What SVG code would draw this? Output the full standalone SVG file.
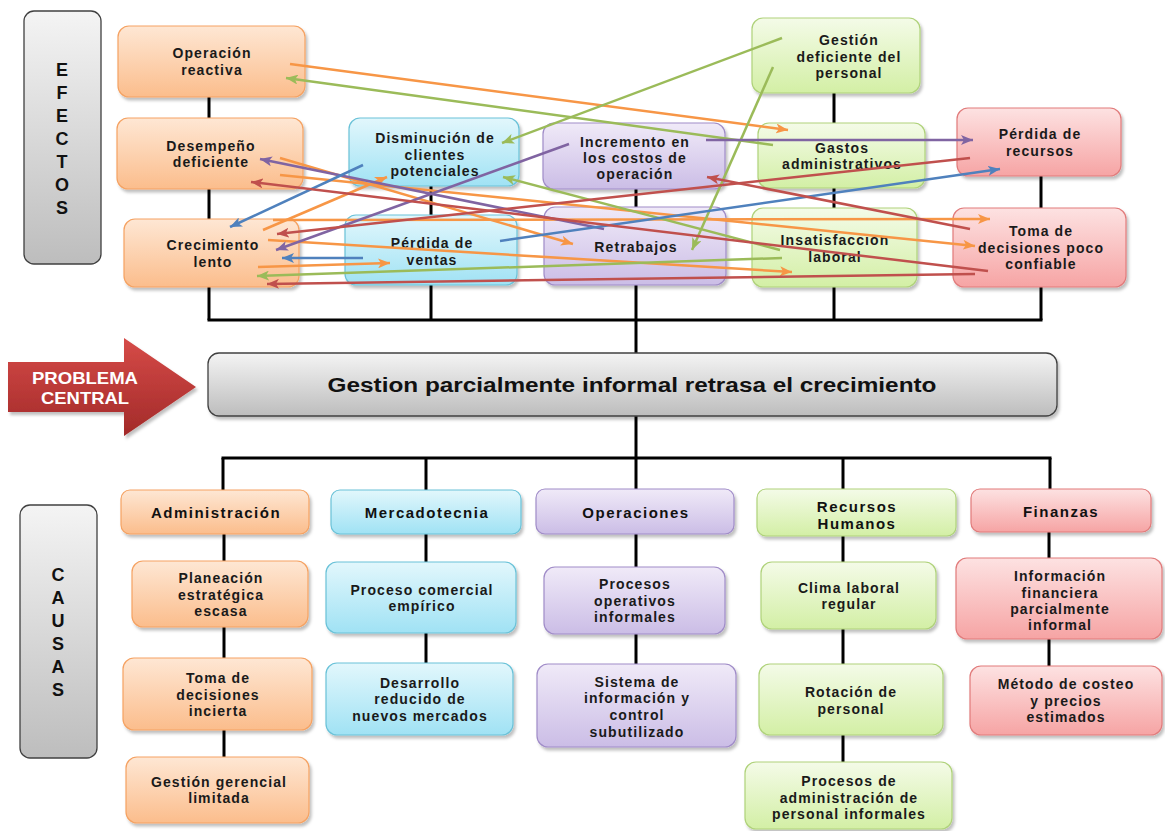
<svg xmlns="http://www.w3.org/2000/svg" width="1165" height="831" viewBox="0 0 1165 831">
<style>
.t{font-family:"Liberation Sans",Arial,sans-serif;font-weight:bold;font-size:14px;letter-spacing:1.1px;text-anchor:middle;fill:#1a1a1a;dominant-baseline:central}
.h{font-family:"Liberation Sans",Arial,sans-serif;font-weight:bold;font-size:15px;letter-spacing:1.5px;text-anchor:middle;fill:#111;dominant-baseline:central}
.big{font-family:"Liberation Sans",Arial,sans-serif;font-weight:bold;font-size:18px;text-anchor:middle;fill:#111;dominant-baseline:central}
.pc{font-family:"Liberation Sans",Arial,sans-serif;font-weight:bold;font-size:16.5px;fill:#fff;text-anchor:middle;dominant-baseline:central}
.or{fill:url(#gOr);stroke:#f5a262;stroke-width:1.2}
.bl{fill:url(#gBl);stroke:#6ac2d8;stroke-width:1.2}
.pu{fill:url(#gPu);stroke:#a08cc8;stroke-width:1.2}
.gr{fill:url(#gGr);stroke:#afd27a;stroke-width:1.2}
.re{fill:url(#gRe);stroke:#e17b7b;stroke-width:1.2}
.gy{fill:url(#gGy);stroke:#404040;stroke-width:1.3}
.node rect{filter:url(#sh)}
.tree line{stroke:#000;stroke-width:3}
.a{fill:none;stroke-width:2.5}
.ao{stroke:#f79646;marker-end:url(#mO)}
.ag{stroke:#9bbb59;marker-end:url(#mG)}
.ap{stroke:#8064a2;marker-end:url(#mP)}
.ab{stroke:#4f81bd;marker-end:url(#mB)}
.ar{stroke:#c0504d;marker-end:url(#mR)}
</style>
<defs>
<linearGradient id="gOr" x1="0" y1="0" x2="0" y2="1"><stop offset="0" stop-color="#fee7d4"/><stop offset="1" stop-color="#fbbd8c"/></linearGradient>
<linearGradient id="gBl" x1="0" y1="0" x2="0" y2="1"><stop offset="0" stop-color="#e2f7fc"/><stop offset="1" stop-color="#a0e2f4"/></linearGradient>
<linearGradient id="gPu" x1="0" y1="0" x2="0" y2="1"><stop offset="0" stop-color="#f0eaf8"/><stop offset="1" stop-color="#cbbde6"/></linearGradient>
<linearGradient id="gGr" x1="0" y1="0" x2="0" y2="1"><stop offset="0" stop-color="#f4fbe8"/><stop offset="1" stop-color="#d3efa5"/></linearGradient>
<linearGradient id="gRe" x1="0" y1="0" x2="0" y2="1"><stop offset="0" stop-color="#fde2e2"/><stop offset="1" stop-color="#f6a4a4"/></linearGradient>
<linearGradient id="gGy" x1="0" y1="0" x2="0" y2="1"><stop offset="0" stop-color="#f4f4f4"/><stop offset="1" stop-color="#bdbdbd"/></linearGradient>
<linearGradient id="gArr" x1="0" y1="0" x2="0" y2="1"><stop offset="0" stop-color="#d64b48"/><stop offset="1" stop-color="#a22a29"/></linearGradient>
<filter id="sh" x="-10%" y="-10%" width="125%" height="135%"><feDropShadow dx="2" dy="3" stdDeviation="1.8" flood-color="#000" flood-opacity="0.25"/></filter>
<marker id="mO" markerUnits="userSpaceOnUse" markerWidth="13" markerHeight="10" refX="12" refY="5" orient="auto"><path d="M0,0 L12,5 L0,10 L3,5 z" fill="#f79646"/></marker>
<marker id="mG" markerUnits="userSpaceOnUse" markerWidth="13" markerHeight="10" refX="12" refY="5" orient="auto"><path d="M0,0 L12,5 L0,10 L3,5 z" fill="#9bbb59"/></marker>
<marker id="mP" markerUnits="userSpaceOnUse" markerWidth="13" markerHeight="10" refX="12" refY="5" orient="auto"><path d="M0,0 L12,5 L0,10 L3,5 z" fill="#8064a2"/></marker>
<marker id="mB" markerUnits="userSpaceOnUse" markerWidth="13" markerHeight="10" refX="12" refY="5" orient="auto"><path d="M0,0 L12,5 L0,10 L3,5 z" fill="#4f81bd"/></marker>
<marker id="mR" markerUnits="userSpaceOnUse" markerWidth="13" markerHeight="10" refX="12" refY="5" orient="auto"><path d="M0,0 L12,5 L0,10 L3,5 z" fill="#c0504d"/></marker>
</defs>
<rect width="1165" height="831" fill="#fff"/>

<g id="tree" class="tree">
<line x1="209" y1="97" x2="209" y2="320"/>
<line x1="431" y1="186" x2="431" y2="320"/>
<line x1="636" y1="189" x2="636" y2="353"/>
<line x1="834" y1="93" x2="834" y2="320"/>
<line x1="1041" y1="176" x2="1041" y2="320"/>
<line x1="207.5" y1="320" x2="1042.5" y2="320"/>
<line x1="636" y1="416" x2="636" y2="458"/>
<line x1="221.5" y1="458" x2="1051.5" y2="458"/>
<line x1="223" y1="458" x2="223" y2="490"/>
<line x1="426" y1="458" x2="426" y2="490"/>
<line x1="843" y1="458" x2="843" y2="489"/>
<line x1="1050" y1="458" x2="1050" y2="489"/>
<line x1="224" y1="534" x2="224" y2="757"/>
<line x1="426" y1="534" x2="426" y2="663"/>
<line x1="636" y1="458" x2="636" y2="664"/>
<line x1="843" y1="536" x2="843" y2="762"/>
<line x1="1049" y1="532" x2="1049" y2="666"/>
</g>

<g id="efectos-label"><rect x="24" y="11" width="77" height="253" rx="10" class="gy"/>
<text class="big" x="62" y="70">E</text><text class="big" x="62" y="93">F</text><text class="big" x="62" y="116">E</text><text class="big" x="62" y="139">C</text><text class="big" x="62" y="162">T</text><text class="big" x="62" y="185">O</text><text class="big" x="62" y="208">S</text></g>
<g id="causas-label"><rect x="20" y="505" width="77" height="253" rx="10" class="gy"/>
<text class="big" x="58" y="575">C</text><text class="big" x="58" y="598">A</text><text class="big" x="58" y="621">U</text><text class="big" x="58" y="644">S</text><text class="big" x="58" y="667">A</text><text class="big" x="58" y="690">S</text></g>

<g id="problema-central"><polygon points="8,362 124,362 124,338 196,387 124,436 124,412 8,412" fill="url(#gArr)" filter="url(#sh)"/>
<text class="pc" x="85" y="378" textLength="106" lengthAdjust="spacingAndGlyphs">PROBLEMA</text>
<text class="pc" x="85" y="398" textLength="88" lengthAdjust="spacingAndGlyphs">CENTRAL</text></g>

<g id="central" class="node"><rect x="208" y="353" width="849" height="63" rx="11" class="gy"/>
<text x="632" y="385" textLength="609" lengthAdjust="spacingAndGlyphs" style="font-family:'Liberation Sans',Arial,sans-serif;font-weight:bold;font-size:19.5px;fill:#111;text-anchor:middle;dominant-baseline:central">Gestion parcialmente informal retrasa el crecimiento</text></g>

<g id="e-operacion" class="node"><rect x="118" y="26" width="187" height="71" rx="11" class="or"/><text class="t" x="212" y="53">Operación</text><text class="t" x="212" y="70">reactiva</text></g>
<g id="e-desempeno" class="node"><rect x="117" y="118" width="186" height="71" rx="11" class="or"/><text class="t" x="211" y="146">Desempeño</text><text class="t" x="211" y="162">deficiente</text></g>
<g id="e-crecimiento" class="node"><rect x="124" y="219" width="175" height="68" rx="11" class="or"/><text class="t" x="213" y="245">Crecimiento</text><text class="t" x="213" y="262">lento</text></g>
<g id="e-disminucion" class="node"><rect x="349" y="118" width="170" height="68" rx="11" class="bl"/><text class="t" x="435" y="138">Disminución de</text><text class="t" x="435" y="155">clientes</text><text class="t" x="435" y="171">potenciales</text></g>
<g id="e-perdida-ventas" class="node"><rect x="345" y="215" width="172" height="70" rx="11" class="bl"/><text class="t" x="432" y="243">Pérdida de</text><text class="t" x="432" y="260">ventas</text></g>
<g id="e-incremento" class="node"><rect x="543" y="123" width="182" height="66" rx="11" class="pu"/><text class="t" x="635" y="142">Incremento en</text><text class="t" x="635" y="158">los costos de</text><text class="t" x="635" y="174">operación</text></g>
<g id="e-retrabajos" class="node"><rect x="544" y="207" width="182" height="78" rx="11" class="pu"/><text class="t" x="636" y="247">Retrabajos</text></g>
<g id="e-gestion-personal" class="node"><rect x="752" y="18" width="168" height="75" rx="11" class="gr"/><text class="t" x="849" y="40">Gestión</text><text class="t" x="849" y="57">deficiente del</text><text class="t" x="849" y="73">personal</text></g>
<g id="e-gastos" class="node"><rect x="758" y="123" width="167" height="65" rx="11" class="gr"/><text class="t" x="842" y="148">Gastos</text><text class="t" x="842" y="164">administrativos</text></g>
<g id="e-insatisfaccion" class="node"><rect x="752" y="208" width="165" height="79" rx="11" class="gr"/><text class="t" x="835" y="240">Insatisfaccion</text><text class="t" x="835" y="257">laboral</text></g>
<g id="e-perdida-recursos" class="node"><rect x="957" y="108" width="164" height="68" rx="11" class="re"/><text class="t" x="1040" y="134">Pérdida de</text><text class="t" x="1040" y="151">recursos</text></g>
<g id="e-toma-decisiones" class="node"><rect x="953" y="208" width="173" height="79" rx="11" class="re"/><text class="t" x="1041" y="231">Toma de</text><text class="t" x="1041" y="248">decisiones poco</text><text class="t" x="1041" y="264">confiable</text></g>

<g id="c-administracion" class="node"><rect x="121" y="490" width="188" height="44" rx="9" class="or"/><text class="h" x="216" y="512">Administración</text></g>
<g id="c-planeacion" class="node"><rect x="132" y="561" width="176" height="66" rx="11" class="or"/><text class="t" x="221" y="578">Planeación</text><text class="t" x="221" y="595">estratégica</text><text class="t" x="221" y="611">escasa</text></g>
<g id="c-toma-incierta" class="node"><rect x="123" y="658" width="189" height="72" rx="11" class="or"/><text class="t" x="218" y="678">Toma de</text><text class="t" x="218" y="695">decisiones</text><text class="t" x="218" y="711">incierta</text></g>
<g id="c-gestion-gerencial" class="node"><rect x="126" y="757" width="183" height="66" rx="11" class="or"/><text class="t" x="219" y="782">Gestión gerencial</text><text class="t" x="219" y="798">limitada</text></g>
<g id="c-mercadotecnia" class="node"><rect x="331" y="490" width="190" height="44" rx="9" class="bl"/><text class="h" x="427" y="512">Mercadotecnia</text></g>
<g id="c-proceso-comercial" class="node"><rect x="326" y="562" width="190" height="71" rx="11" class="bl"/><text class="t" x="422" y="590">Proceso comercial</text><text class="t" x="422" y="606">empírico</text></g>
<g id="c-desarrollo" class="node"><rect x="326" y="663" width="187" height="72" rx="11" class="bl"/><text class="t" x="420" y="683">Desarrollo</text><text class="t" x="420" y="699">reducido de</text><text class="t" x="420" y="716">nuevos mercados</text></g>
<g id="c-operaciones" class="node"><rect x="536" y="489" width="198" height="45" rx="9" class="pu"/><text class="h" x="636" y="512">Operaciones</text></g>
<g id="c-procesos-operativos" class="node"><rect x="544" y="567" width="181" height="67" rx="11" class="pu"/><text class="t" x="635" y="584">Procesos</text><text class="t" x="635" y="601">operativos</text><text class="t" x="635" y="617">informales</text></g>
<g id="c-sistema" class="node"><rect x="537" y="664" width="199" height="83" rx="11" class="pu"/><text class="t" x="637" y="682">Sistema de</text><text class="t" x="637" y="698">información y</text><text class="t" x="637" y="715">control</text><text class="t" x="637" y="732">subutilizado</text></g>
<g id="c-recursos-humanos" class="node"><rect x="757" y="489" width="199" height="47" rx="9" class="gr"/><text class="h" x="857" y="506">Recursos</text><text class="h" x="857" y="523">Humanos</text></g>
<g id="c-clima" class="node"><rect x="761" y="562" width="175" height="67" rx="11" class="gr"/><text class="t" x="849" y="588">Clima laboral</text><text class="t" x="849" y="604">regular</text></g>
<g id="c-rotacion" class="node"><rect x="759" y="664" width="184" height="71" rx="11" class="gr"/><text class="t" x="851" y="692">Rotación de</text><text class="t" x="851" y="709">personal</text></g>
<g id="c-procesos-admin" class="node"><rect x="745" y="762" width="207" height="67" rx="11" class="gr"/><text class="t" x="849" y="781">Procesos de</text><text class="t" x="849" y="798">administración de</text><text class="t" x="849" y="814">personal informales</text></g>
<g id="c-finanzas" class="node"><rect x="971" y="489" width="180" height="43" rx="9" class="re"/><text class="h" x="1061" y="511">Finanzas</text></g>
<g id="c-informacion" class="node"><rect x="956" y="558" width="206" height="81" rx="11" class="re"/><text class="t" x="1060" y="576">Información</text><text class="t" x="1060" y="593">financiera</text><text class="t" x="1060" y="609">parcialmente</text><text class="t" x="1060" y="625">informal</text></g>
<g id="c-metodo" class="node"><rect x="970" y="666" width="192" height="69" rx="11" class="re"/><text class="t" x="1066" y="684">Método de costeo</text><text class="t" x="1066" y="701">y precios</text><text class="t" x="1066" y="717">estimados</text></g>

<g id="connectors">
<line class="a ao" x1="290" y1="64" x2="788" y2="130"/>
<line class="a ao" x1="263" y1="230" x2="387" y2="177"/>
<line class="a ao" x1="258" y1="267" x2="390" y2="263"/>
<line class="a ao" x1="280" y1="158" x2="573" y2="244"/>
<line class="a ao" x1="280" y1="175" x2="975" y2="246"/>
<line class="a ao" x1="273" y1="220" x2="990" y2="219"/>
<line class="a ao" x1="268" y1="240" x2="792" y2="272"/>
<line class="a ag" x1="773" y1="145" x2="286" y2="78"/>
<line class="a ag" x1="782" y1="38" x2="502" y2="143"/>
<line class="a ag" x1="773" y1="67" x2="692" y2="250"/>
<line class="a ag" x1="780" y1="250" x2="503" y2="177"/>
<line class="a ag" x1="782" y1="258" x2="257" y2="276"/>
<line class="a ap" x1="706" y1="140" x2="973" y2="140"/>
<line class="a ap" x1="569" y1="144" x2="276" y2="250"/>
<line class="a ap" x1="604" y1="229" x2="260" y2="159"/>
<line class="a ab" x1="363" y1="165" x2="230" y2="227"/>
<line class="a ab" x1="363" y1="258" x2="282" y2="258"/>
<line class="a ab" x1="500" y1="241" x2="1000" y2="169"/>
<line class="a ar" x1="970" y1="158" x2="277" y2="234"/>
<line class="a ar" x1="970" y1="229" x2="707" y2="177"/>
<line class="a ar" x1="988" y1="271" x2="251" y2="182"/>
<line class="a ar" x1="975" y1="274" x2="267" y2="284"/>
</g>
</svg>
